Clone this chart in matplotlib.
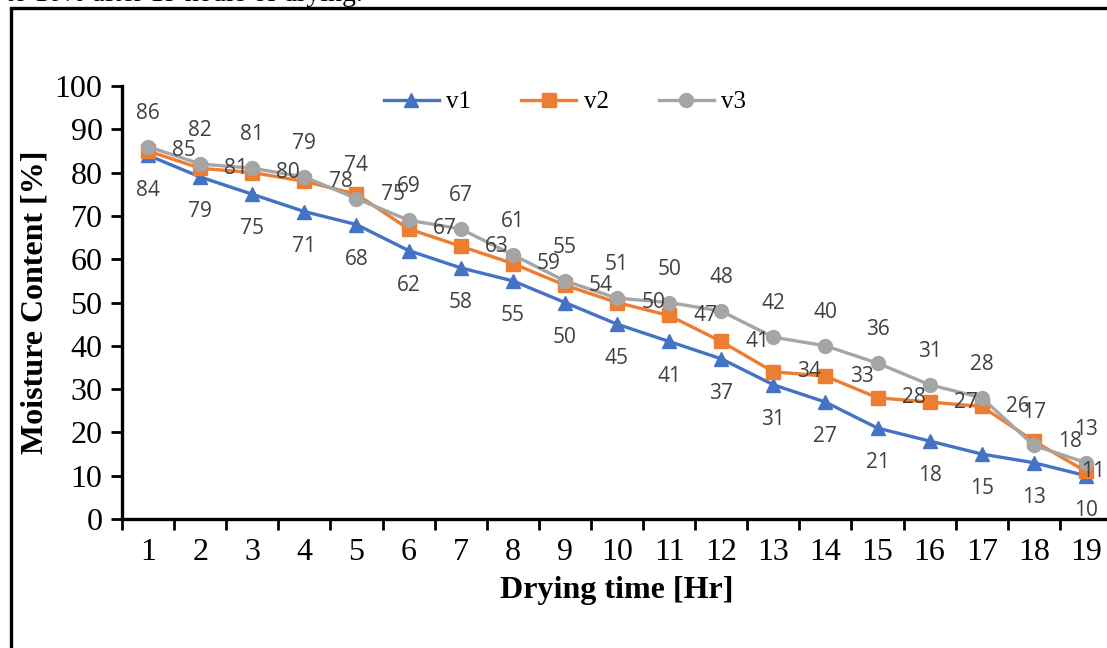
import matplotlib
matplotlib.use("Agg")
import matplotlib.pyplot as plt
from matplotlib.patches import Rectangle

hours = list(range(1, 20))
v1 = [84, 79, 75, 71, 68, 62, 58, 55, 50, 45, 41, 37, 31, 27, 21, 18, 15, 13, 10]
v2 = [85, 81, 80, 78, 75, 67, 63, 59, 54, 50, 47, 41, 34, 33, 28, 27, 26, 18, 11]
v3 = [86, 82, 81, 79, 74, 69, 67, 61, 55, 51, 50, 48, 42, 40, 36, 31, 28, 17, 13]
series_names = ["v1", "v2", "v3"]
y_ticks = list(range(0, 101, 10))

W, H = 1107, 648
fig = plt.figure(figsize=(W / 100, H / 100), dpi=100)
ax = fig.add_axes([122 / W, 1 - 519 / H, (1112 - 122) / W, (519 - 86) / H])

serif = "Liberation Serif"
lab_font = "Open Sans"
lab_col = "#404040"
lab_size = 15

c1, c2, c3 = "#4472C4", "#ED7D31", "#A5A5A5"
ax.plot(hours, v1, color=c1, lw=2.4, marker="^", ms=10, label=series_names[0], zorder=3)
ax.plot(hours, v2, color=c2, lw=2.4, marker="s", ms=9.5, label=series_names[1], zorder=4)
ax.plot(hours, v3, color=c3, lw=2.4, marker="o", ms=10, label=series_names[2], zorder=5)

for i, (x, y) in enumerate(zip(hours, v1)):
    ax.annotate(str(y), (x, y), xytext=(0, -25), textcoords="offset points",
                ha="center", va="center", fontsize=lab_size, family=lab_font, color=lab_col,
                annotation_clip=False, zorder=6)
for i, (x, y) in enumerate(zip(hours, v2)):
    dx = 26 if i < len(hours) - 1 else 5
    ax.annotate(str(y), (x, y), xytext=(dx, 0), textcoords="offset points",
                ha="center", va="center", fontsize=lab_size, family=lab_font, color=lab_col,
                annotation_clip=False, zorder=6)
for i, (x, y) in enumerate(zip(hours, v3)):
    ax.annotate(str(y), (x, y), xytext=(0, 24), textcoords="offset points",
                ha="center", va="center", fontsize=lab_size, family=lab_font, color=lab_col,
                annotation_clip=False, zorder=6)

ax.set_xlim(0.5, 19.5)
ax.set_ylim(0, 100)
ax.set_yticks(y_ticks)
ax.set_yticklabels([str(t) for t in y_ticks], family=serif, fontsize=23)
ax.set_xticks(hours)
ax.set_xticklabels([str(h) for h in hours], family=serif, fontsize=23)
ax.set_xticks([h + 0.5 for h in [0] + hours], minor=True)
ax.tick_params(axis="x", which="major", length=0, pad=14)
ax.tick_params(axis="x", which="minor", length=8, width=2, direction="out")
ax.tick_params(axis="y", which="major", length=8, width=2, direction="out", pad=6)

for s in ["top", "right"]:
    ax.spines[s].set_visible(False)
for s in ["left", "bottom"]:
    ax.spines[s].set_linewidth(2.4)
    ax.spines[s].set_color("black")

ax.set_xlabel("Drying time [Hr]", family=serif, fontsize=23, fontweight="bold", labelpad=6)
ax.set_ylabel("Moisture Content [%]", family=serif, fontsize=23, fontweight="bold")
ax.yaxis.set_label_coords(-(122 - 35) / (1112 - 122), 0.5)
ax.yaxis.label.set_va("center")

leg = ax.legend(loc="center", bbox_to_anchor=((565 - 122) / 990, (519 - 102) / 433),
                ncol=3, frameon=False, prop={"family": serif, "size": 18},
                handlelength=2.2, columnspacing=2.0, handletextpad=0.3)

fig.add_artist(Rectangle((10.5 / W, -0.1), 1.2, 1.1 - 7.5 / H, transform=fig.transFigure,
                         fill=False, edgecolor="black", lw=2.4, clip_on=False))
fig.text(363 / W, 1 - 1.0 / H, "to 10% after 19 hours of drying.", ha="right", va="baseline",
         family=serif, fontsize=20)

fig.savefig("out.png", dpi=100)
